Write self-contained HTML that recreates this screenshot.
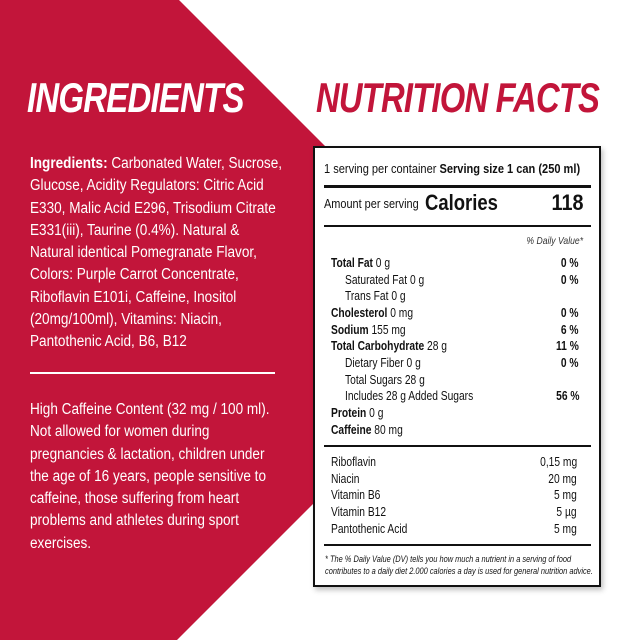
<!DOCTYPE html>
<html><head><meta charset="utf-8"><style>
*{margin:0;padding:0;box-sizing:border-box}
body{width:640px;height:640px;position:relative;overflow:hidden;background:#fff;font-family:"Liberation Sans",sans-serif}
.abs{position:absolute;white-space:nowrap}
.h{font-weight:bold;font-style:italic;font-size:42px;letter-spacing:-1px;transform-origin:0 0}
.ing{left:30px;color:#fff;font-size:15.5px;line-height:22.3px;transform-origin:0 0;transform:scaleX(0.875)}
.box{position:absolute;left:313px;top:146px;width:288px;height:441px;border:2px solid #111;background:#fff;box-shadow:2px 3px 5px rgba(0,0,0,0.25)}
.t{position:absolute;font-size:12.5px;color:#111;white-space:nowrap;transform-origin:0 0;transform:scaleX(0.82)}
.r{transform-origin:100% 0;text-align:right}
.line{position:absolute;left:9px;right:8px;background:#111}
b{font-weight:bold}
</style></head><body>
<svg class="abs" style="left:0;top:0" width="640" height="640"><polygon points="0,0 179,0 498,319 177,640 0,640" fill="#c2153a"/></svg>
<div class="abs h" style="left:27px;top:74px;color:#fff;transform:scaleX(0.785)">INGREDIENTS</div>
<div class="abs h" style="left:316px;top:74px;color:#c2153a;transform:scaleX(0.78)">NUTRITION FACTS</div>
<div class="abs ing" style="top:153px">
<div><b>Ingredients:</b> Carbonated Water, Sucrose,</div>
<div>Glucose, Acidity Regulators: Citric Acid</div>
<div>E330, Malic Acid E296, Trisodium Citrate</div>
<div>E331(iii), Taurine (0.4%). Natural &amp;</div>
<div>Natural identical Pomegranate Flavor,</div>
<div>Colors: Purple Carrot Concentrate,</div>
<div>Riboflavin E101i, Caffeine, Inositol</div>
<div>(20mg/100ml), Vitamins: Niacin,</div>
<div>Pantothenic Acid, B6, B12</div>
</div>
<div class="abs" style="left:30px;top:372px;width:245px;height:1.5px;background:#fff"></div>
<div class="abs ing" style="top:399px">
<div>High Caffeine Content (32 mg / 100 ml).</div>
<div>Not allowed for women during</div>
<div>pregnancies &amp; lactation, children under</div>
<div>the age of 16 years, people sensitive to</div>
<div>caffeine, those suffering from heart</div>
<div>problems and athletes during sport</div>
<div>exercises.</div>
</div>
<div class="box">
<div class="t" style="left:9px;top:13px;font-size:13px;transform:scaleX(0.85)">1 serving per container <b>Serving size 1 can (250 ml)</b></div>
<div class="line" style="top:37px;height:3px"></div>
<div class="t" style="left:9px;top:48px;font-size:13px;transform:scaleX(0.84)">Amount per serving</div>
<div class="t" style="left:110px;top:42px;font-size:22px;font-weight:bold;transform:scaleX(0.84)">Calories</div>
<div class="t r" style="right:16px;top:42px;font-size:22px;font-weight:bold;transform:scaleX(0.9)">118</div>
<div class="line" style="top:77px;height:2px"></div>
<div class="t r" style="right:16px;top:87px;font-size:10.5px;font-style:italic;color:#333">% Daily Value*</div>
<div class="t" style="left:16px;top:108px"><b>Total Fat</b> 0 g</div><div class="t r" style="right:20px;top:108px"><b>0 %</b></div>
<div class="t" style="left:30px;top:125px">Saturated Fat 0 g</div><div class="t r" style="right:20px;top:125px"><b>0 %</b></div>
<div class="t" style="left:30px;top:141px">Trans Fat 0 g</div>
<div class="t" style="left:16px;top:158px"><b>Cholesterol</b> 0 mg</div><div class="t r" style="right:20px;top:158px"><b>0 %</b></div>
<div class="t" style="left:16px;top:175px"><b>Sodium</b> 155 mg</div><div class="t r" style="right:20px;top:175px"><b>6 %</b></div>
<div class="t" style="left:16px;top:191px"><b>Total Carbohydrate</b> 28 g</div><div class="t r" style="right:20px;top:191px"><b>11 %</b></div>
<div class="t" style="left:30px;top:208px">Dietary Fiber 0 g</div><div class="t r" style="right:20px;top:208px"><b>0 %</b></div>
<div class="t" style="left:30px;top:225px">Total Sugars 28 g</div>
<div class="t" style="left:30px;top:241px">Includes 28 g Added Sugars</div><div class="t r" style="right:20px;top:241px"><b>56 %</b></div>
<div class="t" style="left:16px;top:258px"><b>Protein</b> 0 g</div>
<div class="t" style="left:16px;top:275px"><b>Caffeine</b> 80 mg</div>
<div class="line" style="top:297px;height:2px"></div>
<div class="t" style="left:16px;top:307px">Riboflavin</div><div class="t r" style="right:22px;top:307px">0,15 mg</div>
<div class="t" style="left:16px;top:324px">Niacin</div><div class="t r" style="right:22px;top:324px">20 mg</div>
<div class="t" style="left:16px;top:340px">Vitamin B6</div><div class="t r" style="right:22px;top:340px">5 mg</div>
<div class="t" style="left:16px;top:357px">Vitamin B12</div><div class="t r" style="right:22px;top:357px">5 µg</div>
<div class="t" style="left:16px;top:374px">Pantothenic Acid</div><div class="t r" style="right:22px;top:374px">5 mg</div>
<div class="line" style="top:396px;height:2px"></div>
<div class="t" style="left:10px;top:405px;font-size:9px;font-style:italic;line-height:12px;transform:scaleX(0.825)">* The % Daily Value (DV) tells you how much a nutrient in a serving of food<br>contributes to a daily diet 2.000 calories a day is used for general nutrition advice.</div>
</div>
</body></html>
